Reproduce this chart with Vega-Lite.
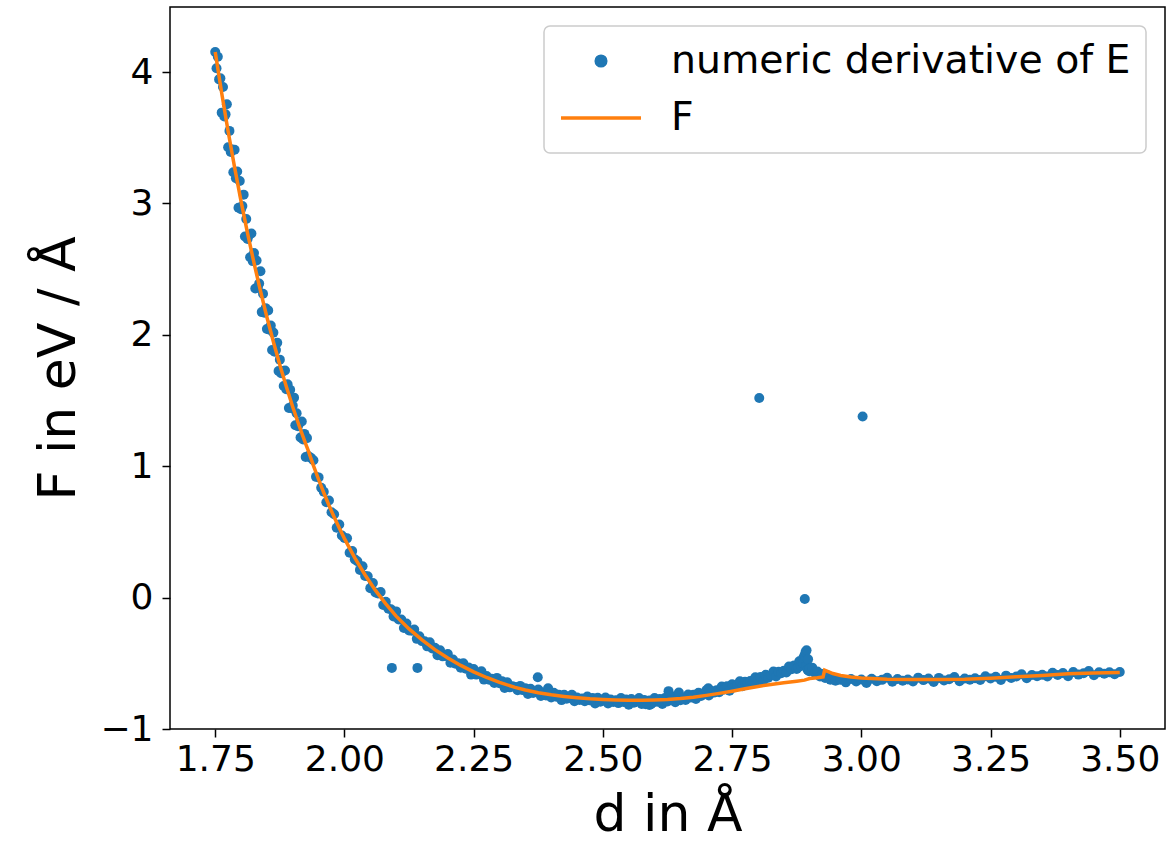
{
"$schema": "https://vega.github.io/schema/vega-lite/v6.json",
"width": 995, "height": 722,
"autosize": {"type": "none"},
"padding": {"left": 170, "top": 7, "right": 7, "bottom": 118},
"background": "white",
"config": {
 "view": {"stroke": "black", "strokeWidth": 1.5},
 "axis": {"grid": false, "domain": false, "tickColor": "black", "tickWidth": 1.5, "tickSize": 8, "labelColor": "black", "labelFont": "DejaVu Sans", "labelFontSize": 36, "titleFont": "DejaVu Sans", "titleFontSize": 52, "titleFontWeight": "normal", "titleColor": "black"},
 "legend": {"strokeWidth": 1.5}
},
"datasets": {
"pts": [
{"d":1.75,"F":4.153},{"d":1.7525,"F":4.029},{"d":1.755,"F":4.116},{"d":1.7575,"F":3.944},{"d":1.76,"F":3.952},{"d":1.7625,"F":3.691},{"d":1.765,"F":3.886},{"d":1.7675,"F":3.662},{"d":1.77,"F":3.678},{"d":1.7725,"F":3.755},{"d":1.775,"F":3.428},{"d":1.7775,"F":3.552},{"d":1.78,"F":3.391},{"d":1.7825,"F":3.411},{"d":1.785,"F":3.237},{"d":1.7875,"F":3.409},{"d":1.79,"F":3.191},{"d":1.7925,"F":3.243},{"d":1.795,"F":2.967},{"d":1.7975,"F":3.171},{"d":1.8,"F":2.956},{"d":1.8025,"F":2.981},{"d":1.805,"F":3.067},{"d":1.8075,"F":2.749},{"d":1.81,"F":2.881},{"d":1.8125,"F":2.729},{"d":1.815,"F":2.757},{"d":1.8175,"F":2.591},{"d":1.82,"F":2.771},{"d":1.8225,"F":2.561},{"d":1.825,"F":2.622},{"d":1.8275,"F":2.353},{"d":1.83,"F":2.565},{"d":1.8325,"F":2.358},{"d":1.835,"F":2.391},{"d":1.8375,"F":2.484},{"d":1.84,"F":2.173},{"d":1.8425,"F":2.313},{"d":1.845,"F":2.168},{"d":1.8475,"F":2.203},{"d":1.85,"F":2.044},{"d":1.8525,"F":2.186},{"d":1.855,"F":2.038},{"d":1.8575,"F":2.071},{"d":1.86,"F":1.884},{"d":1.8625,"F":2.017},{"d":1.865,"F":1.871},{"d":1.8675,"F":1.885},{"d":1.87,"F":1.940},{"d":1.8725,"F":1.725},{"d":1.875,"F":1.811},{"d":1.8775,"F":1.707},{"d":1.88,"F":1.724},{"d":1.8825,"F":1.611},{"d":1.885,"F":1.728},{"d":1.8875,"F":1.586},{"d":1.89,"F":1.624},{"d":1.8925,"F":1.443},{"d":1.895,"F":1.582},{"d":1.8975,"F":1.442},{"d":1.9,"F":1.461},{"d":1.9025,"F":1.522},{"d":1.905,"F":1.312},{"d":1.9075,"F":1.403},{"d":1.91,"F":1.305},{"d":1.9125,"F":1.326},{"d":1.915,"F":1.218},{"d":1.9175,"F":1.341},{"d":1.92,"F":1.203},{"d":1.9225,"F":1.246},{"d":1.925,"F":1.070},{"d":1.9275,"F":1.214},{"d":1.93,"F":1.078},
{"d":1.935,"F":1.065},{"d":1.94,"F":1.045},{"d":1.945,"F":0.919},{"d":1.95,"F":0.915},{"d":1.955,"F":0.836},{"d":1.96,"F":0.806},{"d":1.965,"F":0.726},{"d":1.97,"F":0.739},{"d":1.975,"F":0.650},{"d":1.98,"F":0.634},{"d":1.985,"F":0.531},{"d":1.99,"F":0.557},{"d":1.995,"F":0.473},{"d":2.0,"F":0.453},{"d":2.005,"F":0.451},{"d":2.01,"F":0.342},{"d":2.015,"F":0.354},{"d":2.02,"F":0.291},{"d":2.025,"F":0.277},{"d":2.03,"F":0.211},{"d":2.035,"F":0.239},{"d":2.04,"F":0.164},{"d":2.045,"F":0.162},{"d":2.05,"F":0.072},{"d":2.055,"F":0.111},{"d":2.06,"F":0.039},{"d":2.065,"F":0.032},{"d":2.07,"F":0.042},{"d":2.075,"F":-0.056},{"d":2.08,"F":-0.032},{"d":2.085,"F":-0.085},{"d":2.09,"F":-0.088},{"d":2.095,"F":-0.143},{"d":2.1,"F":-0.105},
{"d":2.105,"F":-0.167},{"d":2.11,"F":-0.166},{"d":2.115,"F":-0.231},{"d":2.12,"F":-0.198},{"d":2.125,"F":-0.250},{"d":2.13,"F":-0.252},{"d":2.135,"F":-0.243},{"d":2.14,"F":-0.314},{"d":2.145,"F":-0.294},{"d":2.15,"F":-0.331},{"d":2.155,"F":-0.332},{"d":2.16,"F":-0.371},{"d":2.165,"F":-0.340},{"d":2.17,"F":-0.388},{"d":2.175,"F":-0.381},{"d":2.18,"F":-0.439},{"d":2.185,"F":-0.401},{"d":2.19,"F":-0.447},{"d":2.195,"F":-0.445},{"d":2.2,"F":-0.430},{"d":2.205,"F":-0.496},{"d":2.21,"F":-0.471},{"d":2.215,"F":-0.503},{"d":2.22,"F":-0.499},{"d":2.225,"F":-0.534},{"d":2.23,"F":-0.499},{"d":2.235,"F":-0.542},{"d":2.24,"F":-0.531},{"d":2.245,"F":-0.586},{"d":2.25,"F":-0.544},{"d":2.255,"F":-0.586},{"d":2.26,"F":-0.580},{"d":2.265,"F":-0.561},{"d":2.27,"F":-0.624},{"d":2.275,"F":-0.596},{"d":2.28,"F":-0.625},{"d":2.285,"F":-0.617},{"d":2.29,"F":-0.649},{"d":2.295,"F":-0.611},{"d":2.3,"F":-0.651},{"d":2.305,"F":-0.637},{"d":2.31,"F":-0.688},{"d":2.315,"F":-0.644},{"d":2.32,"F":-0.683},{"d":2.325,"F":-0.674},
{"d":2.33,"F":-0.681},{"d":2.335,"F":-0.705},{"d":2.34,"F":-0.672},{"d":2.345,"F":-0.704},{"d":2.35,"F":-0.690},{"d":2.355,"F":-0.733},{"d":2.36,"F":-0.694},{"d":2.365,"F":-0.726},{"d":2.37,"F":-0.717},{"d":2.375,"F":-0.699},{"d":2.38,"F":-0.749},{"d":2.385,"F":-0.723},{"d":2.39,"F":-0.745},{"d":2.395,"F":-0.736},{"d":2.4,"F":-0.760},{"d":2.405,"F":-0.725},{"d":2.41,"F":-0.755},{"d":2.415,"F":-0.740},{"d":2.42,"F":-0.780},{"d":2.425,"F":-0.740},{"d":2.43,"F":-0.770},{"d":2.435,"F":-0.760},{"d":2.44,"F":-0.740},{"d":2.445,"F":-0.788},{"d":2.45,"F":-0.760},{"d":2.455,"F":-0.779},{"d":2.46,"F":-0.768},{"d":2.465,"F":-0.789},{"d":2.47,"F":-0.753},{"d":2.475,"F":-0.782},{"d":2.48,"F":-0.765},{"d":2.485,"F":-0.805},{"d":2.49,"F":-0.763},{"d":2.495,"F":-0.793},{"d":2.5,"F":-0.781},{"d":2.505,"F":-0.760},{"d":2.51,"F":-0.805},{"d":2.515,"F":-0.776},{"d":2.52,"F":-0.794},{"d":2.525,"F":-0.782},{"d":2.53,"F":-0.803},{"d":2.535,"F":-0.765},{"d":2.54,"F":-0.794},{"d":2.545,"F":-0.776},{"d":2.55,"F":-0.815},{"d":2.555,"F":-0.772},{"d":2.56,"F":-0.800},{"d":2.565,"F":-0.786},{"d":2.57,"F":-0.764},{"d":2.575,"F":-0.809},{"d":2.58,"F":-0.779},{"d":2.585,"F":-0.797},{"d":2.59,"F":-0.783},{"d":2.595,"F":-0.803},{"d":2.6,"F":-0.765},{"d":2.605,"F":-0.792},{"d":2.61,"F":-0.772},{"d":2.615,"F":-0.809},{"d":2.62,"F":-0.764},{"d":2.625,"F":-0.791},{"d":2.63,"F":-0.776},{"d":2.635,"F":-0.753},{"d":2.64,"F":-0.796},{"d":2.645,"F":-0.765},{"d":2.65,"F":-0.781},
{"d":2.655,"F":-0.764},{"d":2.66,"F":-0.779},{"d":2.665,"F":-0.737},{"d":2.67,"F":-0.761},{"d":2.675,"F":-0.739},{"d":2.68,"F":-0.772},{"d":2.685,"F":-0.725},{"d":2.69,"F":-0.749},{"d":2.695,"F":-0.731},{"d":2.7,"F":-0.705},{"d":2.705,"F":-0.745},{"d":2.71,"F":-0.710},{"d":2.715,"F":-0.723},{"d":2.72,"F":-0.705},{"d":2.725,"F":-0.720},{"d":2.73,"F":-0.676},{"d":2.735,"F":-0.699},{"d":2.74,"F":-0.675},{"d":2.745,"F":-0.708},{"d":2.75,"F":-0.659},{"d":2.755,"F":-0.682},{"d":2.76,"F":-0.663},{"d":2.765,"F":-0.636},{"d":2.77,"F":-0.675},{"d":2.775,"F":-0.640},{"d":2.78,"F":-0.653},{"d":2.785,"F":-0.635},{"d":2.79,"F":-0.649},{"d":2.795,"F":-0.606},{"d":2.8,"F":-0.629},{"d":2.805,"F":-0.605},{"d":2.81,"F":-0.637},{"d":2.815,"F":-0.588},{"d":2.82,"F":-0.610},{"d":2.825,"F":-0.591},{"d":2.83,"F":-0.563},{"d":2.835,"F":-0.601},{"d":2.84,"F":-0.565},{"d":2.845,"F":-0.576},{"d":2.85,"F":-0.557},{"d":2.855,"F":-0.570},{"d":2.86,"F":-0.525},{"d":2.865,"F":-0.545},{"d":2.87,"F":-0.516},{"d":2.875,"F":-0.543},{"d":2.878,"F":-0.530},{"d":2.88,"F":-0.484},{"d":2.883,"F":-0.520},{"d":2.885,"F":-0.495},{"d":2.8875,"F":-0.460},{"d":2.888,"F":-0.500},{"d":2.89,"F":-0.440},{"d":2.892,"F":-0.415},{"d":2.893,"F":-0.520},{"d":2.894,"F":-0.400},{"d":2.896,"F":-0.550},{"d":2.897,"F":-0.470},{"d":2.899,"F":-0.560},{"d":2.9,"F":-0.540},{"d":2.905,"F":-0.533},{"d":2.91,"F":-0.572},{"d":2.915,"F":-0.563},{"d":2.92,"F":-0.600},{"d":2.925,"F":-0.581},{"d":2.93,"F":-0.612},{"d":2.935,"F":-0.593},{"d":2.94,"F":-0.625},{"d":2.945,"F":-0.608},{"d":2.95,"F":-0.633},
{"d":2.96,"F":-0.626},{"d":2.97,"F":-0.645},{"d":2.98,"F":-0.619},{"d":2.99,"F":-0.638},{"d":3.0,"F":-0.623},{"d":3.01,"F":-0.649},{"d":3.02,"F":-0.617},{"d":3.03,"F":-0.636},{"d":3.04,"F":-0.626},{"d":3.05,"F":-0.610},{"d":3.06,"F":-0.641},{"d":3.07,"F":-0.620},{"d":3.08,"F":-0.632},{"d":3.09,"F":-0.623},{"d":3.1,"F":-0.638},{"d":3.11,"F":-0.609},{"d":3.12,"F":-0.628},{"d":3.13,"F":-0.615},{"d":3.14,"F":-0.642},{"d":3.15,"F":-0.611},{"d":3.16,"F":-0.630},{"d":3.17,"F":-0.621},{"d":3.18,"F":-0.605},{"d":3.19,"F":-0.636},{"d":3.2,"F":-0.615},{"d":3.21,"F":-0.625},{"d":3.22,"F":-0.614},{"d":3.23,"F":-0.627},{"d":3.24,"F":-0.598},{"d":3.25,"F":-0.616},{"d":3.26,"F":-0.602},{"d":3.27,"F":-0.627},{"d":3.28,"F":-0.594},{"d":3.29,"F":-0.612},{"d":3.3,"F":-0.601},{"d":3.31,"F":-0.583},{"d":3.32,"F":-0.613},{"d":3.33,"F":-0.589},{"d":3.34,"F":-0.599},{"d":3.35,"F":-0.588},{"d":3.36,"F":-0.601},{"d":3.37,"F":-0.572},{"d":3.38,"F":-0.589},{"d":3.39,"F":-0.574},{"d":3.4,"F":-0.599},{"d":3.41,"F":-0.567},{"d":3.42,"F":-0.586},{"d":3.43,"F":-0.576},{"d":3.44,"F":-0.559},{"d":3.45,"F":-0.590},{"d":3.46,"F":-0.568},{"d":3.47,"F":-0.579},{"d":3.48,"F":-0.569},{"d":3.49,"F":-0.583},{"d":3.5,"F":-0.566},
{"d":2.394,"F":-0.690},{"d":2.627,"F":-0.712},{"d":2.647,"F":-0.722},{"d":2.704,"F":-0.690},{"d":2.59,"F":-0.818},{"d":2.593,"F":-0.812},{"d":2.583,"F":-0.812},
{"d":2.0917,"F":-0.535},{"d":2.1412,"F":-0.535},{"d":2.374,"F":-0.606},{"d":2.8025,"F":1.519},{"d":3.0025,"F":1.379},{"d":2.8906,"F":-0.010}
],
"fit": [
{"d":1.75,"F":4.153},{"d":1.7625,"F":3.841},{"d":1.775,"F":3.548},{"d":1.7875,"F":3.274},{"d":1.8,"F":3.016},{"d":1.8125,"F":2.774},{"d":1.825,"F":2.547},{"d":1.8375,"F":2.334},{"d":1.85,"F":2.134},{"d":1.8625,"F":1.947},{"d":1.875,"F":1.771},{"d":1.8875,"F":1.606},{"d":1.9,"F":1.451},{"d":1.9125,"F":1.306},{"d":1.925,"F":1.170},{"d":1.93,"F":1.118},{"d":1.94,"F":1.005},{"d":1.95,"F":0.899},{"d":1.96,"F":0.798},{"d":1.97,"F":0.703},{"d":1.98,"F":0.614},{"d":1.99,"F":0.529},{"d":2.0,"F":0.449},{"d":2.02,"F":0.303},{"d":2.04,"F":0.172},{"d":2.06,"F":0.055},{"d":2.08,"F":-0.048},{"d":2.1,"F":-0.141},{"d":2.125,"F":-0.238},{"d":2.15,"F":-0.322},{"d":2.175,"F":-0.396},{"d":2.2,"F":-0.460},{"d":2.225,"F":-0.516},{"d":2.25,"F":-0.565},{"d":2.275,"F":-0.608},{"d":2.3,"F":-0.645},{"d":2.33,"F":-0.683},{"d":2.35,"F":-0.703},{"d":2.375,"F":-0.724},{"d":2.4,"F":-0.740},{"d":2.425,"F":-0.752},{"d":2.45,"F":-0.762},{"d":2.475,"F":-0.770},{"d":2.5,"F":-0.775},{"d":2.525,"F":-0.779},{"d":2.55,"F":-0.781},{"d":2.575,"F":-0.781},{"d":2.6,"F":-0.779},{"d":2.625,"F":-0.775},{"d":2.65,"F":-0.768},{"d":2.675,"F":-0.758},{"d":2.7,"F":-0.744},{"d":2.725,"F":-0.729},{"d":2.75,"F":-0.712},{"d":2.775,"F":-0.694},{"d":2.8,"F":-0.676},{"d":2.825,"F":-0.661},{"d":2.85,"F":-0.648},{"d":2.875,"F":-0.636},{"d":2.89,"F":-0.628},{"d":2.9,"F":-0.616},{"d":2.915,"F":-0.610},{"d":2.926,"F":-0.604},{"d":2.929,"F":-0.552},{"d":2.945,"F":-0.578},{"d":2.96,"F":-0.593},{"d":2.98,"F":-0.605},{"d":3.0,"F":-0.612},{"d":3.05,"F":-0.621},{"d":3.1,"F":-0.624},{"d":3.15,"F":-0.624},{"d":3.2,"F":-0.621},{"d":3.25,"F":-0.613},{"d":3.3,"F":-0.603},{"d":3.35,"F":-0.592},{"d":3.4,"F":-0.580},{"d":3.45,"F":-0.574},{"d":3.5,"F":-0.570}
]
},
"layer": [
{
 "data": {"name": "pts"},
 "mark": {"type": "circle", "size": 100, "opacity": 1},
 "encoding": {
  "x": {"field": "d", "type": "quantitative", "scale": {"domain": [1.6625, 3.5875], "nice": false, "zero": false},
        "axis": {"values": [1.75, 2, 2.25, 2.5, 2.75, 3, 3.25, 3.5], "format": ".2f", "labelPadding": 5, "title": "d in Å", "titlePadding": 12}},
  "y": {"field": "F", "type": "quantitative", "scale": {"domain": [-1, 4.495], "nice": false, "zero": false},
        "axis": {"values": [-1, 0, 1, 2, 3, 4], "format": "d", "labelPadding": 9, "title": "F in eV / Å", "titlePadding": 14}},
  "color": {"datum": "numeric derivative of E", "type": "nominal",
            "scale": {"domain": ["numeric derivative of E", "F"], "range": ["#1f77b4", "#ff7f0e"]},
            "legend": {"title": null, "orient": "top-right", "offset": 19, "padding": 15, "strokeColor": "#cccccc", "fillColor": "white", "cornerRadius": 6,
                       "labelFontSize": 39.4, "labelFont": "DejaVu Sans", "labelColor": "black", "labelLimit": 1000, "labelOffset": 28, "rowPadding": 17,
                       "symbolSize": 6400, "symbolStrokeWidth": 3.5, "clipHeight": 40, "symbolOpacity": 1,
                       "symbolType": {"expr": "datum.value === 'F' ? 'M-1,0L1,0' : 'M-0.12,0A0.12,0.12,0,1,0,0.12,0A0.12,0.12,0,1,0,-0.12,0Z'"},
                       "symbolStrokeColor": {"expr": "datum.value === 'F' ? '#ff7f0e' : 'transparent'"}}}
 }
},
{
 "data": {"name": "fit"},
 "mark": {"type": "line", "strokeWidth": 3.5},
 "encoding": {
  "x": {"field": "d", "type": "quantitative"},
  "y": {"field": "F", "type": "quantitative"},
  "color": {"datum": "F", "type": "nominal"}
 }
}
]
}
